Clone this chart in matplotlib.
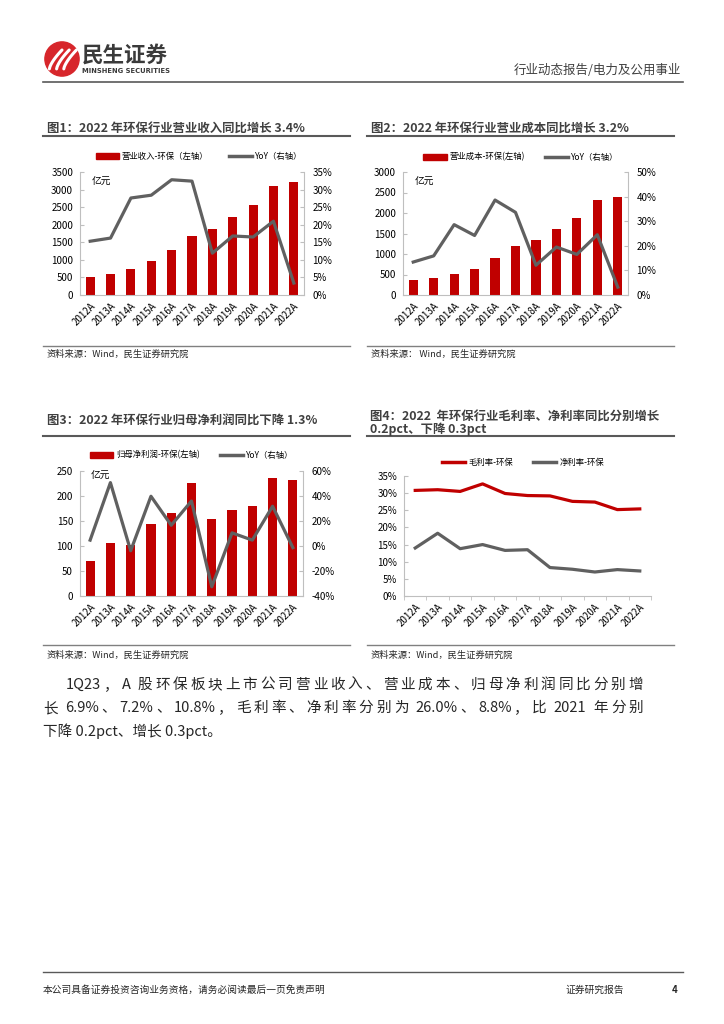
import re
import numpy as np
import matplotlib
matplotlib.use('Agg')
import matplotlib.pyplot as plt
from matplotlib.patches import Patch, Circle
from matplotlib.lines import Line2D

plt.rcParams['font.family'] = ['Noto Sans CJK SC', 'DejaVu Sans']

# ---- data ----
years = ['2012A', '2013A', '2014A', '2015A', '2016A', '2017A',
         '2018A', '2019A', '2020A', '2021A', '2022A']

revenue = [515, 590, 750, 960, 1270, 1685, 1890, 2211, 2569, 3105, 3211]
revenue_yoy = [15.3, 16.2, 27.6, 28.4, 32.8, 32.4, 11.9, 16.8, 16.5, 21.0, 3.4]

cost = [355, 403, 516, 645, 895, 1193, 1338, 1612, 1870, 2313, 2387]
cost_yoy = [13.4, 15.9, 28.6, 24.2, 38.6, 33.6, 12.1, 19.5, 16.5, 24.5, 3.2]

profit = [70.5, 107, 102, 143.6, 166, 227, 155, 172, 179.5, 236, 232.7]
profit_yoy = [4.7, 50.7, -3.8, 39.8, 16.6, 36.0, -32.6, 10.5, 4.7, 31.8, -1.3]

gross_margin = [30.8, 31.0, 30.5, 32.7, 29.9, 29.3, 29.2, 27.6, 27.4, 25.2, 25.4]
net_margin = [14.0, 18.3, 13.8, 15.0, 13.3, 13.5, 8.3, 7.8, 7.0, 7.7, 7.3]

RED = '#C00000'
GRAY = '#606060'
SPINE = '#BFBFBF'
DARK = '#404040'

W, H = 724, 1024
fig = plt.figure(figsize=(W / 100, H / 100), dpi=100)
renderer = fig.canvas.get_renderer()


def fx(x):
    return x / W


def fy(y):
    return 1 - y / H


def hline(x0, x1, y, color='#595959', lw=1.2):
    fig.add_artist(Line2D([fx(x0), fx(x1)], [fy(y), fy(y)], color=color, lw=lw,
                          transform=fig.transFigure))


def make_ax(l, t, r, b):
    return fig.add_axes([fx(l), fy(b), (r - l) / W, (b - t) / H])


def justified(x0, x1, y, s, **kw):
    # spread the tokens of one line evenly between x0 and x1, like Word does
    parts = re.findall(r'( ?)([A-Za-z0-9.%]+|\S)', s)
    texts = [fig.text(0, fy(y), tok, **kw) for _, tok in parts]
    widths = [t.get_window_extent(renderer).width for t in texts]
    space_w = kw.get('fontsize', 9) * 100 / 72 * 0.28
    n_sp = sum(1 for sp, _ in parts if sp)
    extra = (x1 - x0 - sum(widths) - n_sp * space_w) / (len(parts) - 1)
    pos = x0
    for (sp, _), t, w in zip(parts, texts, widths):
        if sp:
            pos += space_w
        t.set_x(fx(pos))
        pos += w + extra


x = np.arange(len(years))


def style_xlabels(ax):
    ax.set_xticks(x)
    ax.set_xticklabels(years, rotation=45, ha='right', rotation_mode='anchor', fontsize=7)
    ax.tick_params(axis='x', length=0, pad=4)


LEG_KW = dict(loc='center', bbox_transform=fig.transFigure, ncol=2, frameon=False, fontsize=6,
              handlelength=2.8, handleheight=0.7, handletextpad=0.35, columnspacing=2.4)


def bar_chart(box, bars, yoy, ylim, yticks, ylim2, yticks2, labels, legend_xy, unit_y):
    ax = make_ax(*box)
    ax.bar(x, bars, width=0.45, color=RED, zorder=2)
    ax.set_xlim(-0.5, len(years) - 0.5)
    ax.set_ylim(*ylim)
    ax.set_yticks(yticks)
    ax.tick_params(axis='y', direction='in', length=3, color=SPINE, labelsize=7, pad=5)
    style_xlabels(ax)
    for s in ['top', 'right']:
        ax.spines[s].set_visible(False)
    for s in ['left', 'bottom']:
        ax.spines[s].set_color(SPINE)
        ax.spines[s].set_linewidth(0.8)
    ax.text(0.05, unit_y, '亿元', transform=ax.transAxes, fontsize=7, va='center')

    ax2 = ax.twinx()
    ax2.plot(x, yoy, color=GRAY, lw=2.3, zorder=3)
    ax2.set_ylim(*ylim2)
    ax2.set_yticks(yticks2)
    ax2.set_yticklabels([f'{v}%' for v in yticks2])
    ax2.tick_params(axis='y', direction='in', length=3, color=SPINE, labelsize=7, pad=6)
    for s in ['top', 'left', 'bottom']:
        ax2.spines[s].set_visible(False)
    ax2.spines['right'].set_color(SPINE)
    ax2.spines['right'].set_linewidth(0.8)

    handles = [Patch(color=RED), Line2D([], [], color=GRAY, lw=2.5)]
    ax2.legend(handles, labels, bbox_to_anchor=(fx(legend_xy[0]), fy(legend_xy[1])), **LEG_KW)
    return ax


# ---- header ----
logo = fig.add_axes([fx(44), fy(77), 36 / W, 36 / H])
logo.set_xlim(-1, 1)
logo.set_ylim(-1, 1)
logo.set_aspect('equal')
logo.axis('off')
logo.add_patch(Circle((0, 0), 0.95, color='#D7262B'))
for dx in [-0.45, -0.05, 0.35]:
    t = np.linspace(0, 1, 30)
    logo.plot(dx - 0.25 + 0.7 * t, -0.55 + 1.05 * t ** 0.7, color='white', lw=2.2,
              solid_capstyle='round')
fig.text(fx(82), fy(55), '民生证券', fontsize=15.5, fontweight='bold', color='#3A3A3A', va='center')
fig.text(fx(82), fy(71), 'MINSHENG SECURITIES', fontsize=4.9, fontweight='bold', color='#3A3A3A',
         va='center', family=['DejaVu Sans'])
fig.text(fx(681), fy(70), '行业动态报告/电力及公用事业', fontsize=9, color=DARK, ha='right', va='center')
hline(43, 683, 82, color='#595959', lw=1.2)

# ---- panel frames ----
title_kw = dict(fontsize=8.9, fontweight='bold', color=DARK, va='center')
fig.text(fx(47), fy(128), '图1：2022 年环保行业营业收入同比增长 3.4%', **title_kw)
fig.text(fx(371), fy(128), '图2：2022 年环保行业营业成本同比增长 3.2%', **title_kw)
fig.text(fx(47), fy(420), '图3：2022 年环保行业归母净利润同比下降 1.3%', **title_kw)
fig.text(fx(370), fy(416), '图4：2022  年环保行业毛利率、净利率同比分别增长', **title_kw)
fig.text(fx(370), fy(429), '0.2pct、下降 0.3pct', **title_kw)
for (x0, x1) in [(43, 350), (367, 674)]:
    hline(x0, x1, 136, lw=1.5)
    hline(x0, x1, 436, lw=1.5)
    hline(x0, x1, 346, color='#808080', lw=1.0)
    hline(x0, x1, 645, color='#808080', lw=1.0)

src_kw = dict(fontsize=6.7, color='#262626', va='center')
fig.text(fx(47), fy(354), '资料来源：Wind，民生证券研究院', **src_kw)
fig.text(fx(371), fy(354), '资料来源： Wind，民生证券研究院', **src_kw)
fig.text(fx(47), fy(655), '资料来源：Wind，民生证券研究院', **src_kw)
fig.text(fx(371), fy(655), '资料来源：Wind，民生证券研究院', **src_kw)

# ---- chart 1 ----
bar_chart((80, 172, 304, 295), revenue, revenue_yoy,
          (0, 3500), range(0, 3501, 500), (0, 35), list(range(0, 36, 5)),
          ['营业收入-环保（左轴）', 'YoY（右轴）'], (199, 156), 0.92)

# ---- chart 2 ----
bar_chart((403, 172, 628, 295), cost, cost_yoy,
          (0, 3000), range(0, 3001, 500), (0, 50), list(range(0, 51, 10)),
          ['营业成本-环保(左轴)', 'YoY（右轴）'], (521, 157), 0.92)

# ---- chart 3 ----
bar_chart((80, 471, 303, 596), profit, profit_yoy,
          (0, 250), range(0, 251, 50), (-40, 60), list(range(-40, 61, 20)),
          ['归母净利润-环保(左轴)', 'YoY（右轴）'], (192, 455), 0.96)

# ---- chart 4 ----
ax4 = make_ax(404, 476, 651, 596)
ax4.plot(x, gross_margin, color=RED, lw=2.3)
ax4.plot(x, net_margin, color=GRAY, lw=2.3)
ax4.set_xlim(-0.5, len(years) - 0.5)
ax4.set_ylim(0, 35)
ax4.set_yticks(range(0, 36, 5))
ax4.set_yticklabels([f'{v}%' for v in range(0, 36, 5)])
ax4.tick_params(axis='y', direction='in', length=3, color=SPINE, labelsize=7, pad=5)
style_xlabels(ax4)
ax4.set_xticks(np.arange(-0.5, len(years)), minor=True)
ax4.tick_params(axis='x', which='minor', direction='out', length=3, color=SPINE)
for s in ['top', 'right']:
    ax4.spines[s].set_visible(False)
for s in ['left', 'bottom']:
    ax4.spines[s].set_color(SPINE)
    ax4.spines[s].set_linewidth(0.8)
ax4.legend([Line2D([], [], color=RED, lw=2.5), Line2D([], [], color=GRAY, lw=2.5)],
           ['毛利率-环保', '净利率-环保'], bbox_to_anchor=(fx(523), fy(462)), **LEG_KW)

# ---- body text ----
body_kw = dict(fontsize=10.5, color='#262626', va='center')
justified(66, 643, 685, '1Q23，A 股环保板块上市公司营业收入、营业成本、归母净利润同比分别增', **body_kw)
justified(43, 643, 708, '长 6.9%、7.2%、10.8%，毛利率、净利率分别为 26.0%、8.8%，比 2021 年分别', **body_kw)
fig.text(fx(43), fy(731), '下降 0.2pct、增长 0.3pct。', **body_kw)

# ---- footer ----
hline(43, 683, 972, color='#595959', lw=1.0)
foot_kw = dict(fontsize=7, color='#262626', va='center')
fig.text(fx(43), fy(990), '本公司具备证券投资咨询业务资格，请务必阅读最后一页免责声明', **foot_kw)
fig.text(fx(565), fy(990), '证券研究报告', **foot_kw)
fig.text(fx(672), fy(990), '4', fontsize=7, fontweight='bold', color='#262626', va='center')

fig.savefig('out.png', dpi=100)
